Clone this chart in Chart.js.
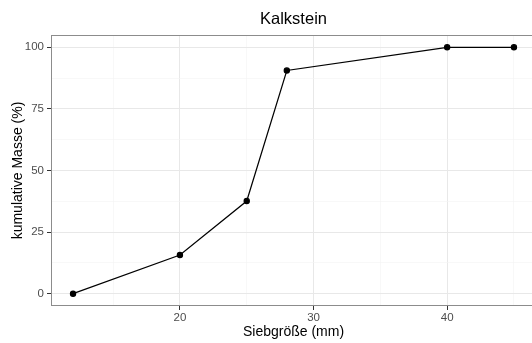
<!DOCTYPE html>
<html>
<head>
<meta charset="utf-8">
<script src="https://cdn.jsdelivr.net/npm/chart.js@4"></script>
<style>
  html, body { margin: 0; padding: 0; background: #fff; overflow: hidden; }
  #wrap { width: 532px; height: 343px; overflow: hidden; }
</style>
</head>
<body>
<div id="wrap"><canvas id="chart" width="540" height="343"></canvas></div>
<script>
const title = "Kalkstein";
const xTitle = "Siebgröße (mm)";
const yTitle = "kumulative Masse (%)";

const sieveSize = [12, 20, 25, 28, 40, 45];
const cumMass = [0, 15.7, 37.6, 90.6, 100, 100];

const xTicks = [15, 20, 25, 30, 35, 40, 45];
const xLabels = [20, 30, 40];
const yTicks = [0, 12.5, 25, 37.5, 50, 62.5, 75, 87.5, 100];
const yLabels = [0, 25, 50, 75, 100];

const font = "'Liberation Sans', Arial, sans-serif";

const isMajor = (list, v) => list.includes(v);

const panelPlugin = {
  id: "panel",
  afterDraw(chart) {
    const a = chart.chartArea;
    const ctx = chart.ctx;
    ctx.save();
    ctx.strokeStyle = "#8c8c8c";
    ctx.lineWidth = 1;
    ctx.strokeRect(a.left + 0.5, a.top + 0.5, a.right - a.left - 1, a.bottom - a.top - 1);
    ctx.fillStyle = "#000";
    ctx.font = "16.5px " + font;
    ctx.textAlign = "center";
    ctx.textBaseline = "middle";
    ctx.fillText(title, (a.left + a.right) / 2, 19.5);
    ctx.restore();
  }
};

new Chart(document.getElementById("chart"), {
  type: "line",
  data: {
    datasets: [{
      data: sieveSize.map((x, i) => ({ x: x, y: cumMass[i] })),
      borderColor: "#000",
      backgroundColor: "#000",
      borderWidth: 1.2,
      pointRadius: 2.6,
      pointHoverRadius: 2.6,
      tension: 0,
      fill: false
    }]
  },
  options: {
    responsive: false,
    animation: false,
    layout: { padding: { top: 35, right: 4, left: 0, bottom: 0 } },
    plugins: { legend: { display: false }, tooltip: { enabled: false } },
    scales: {
      x: {
        type: "linear",
        min: 10.35,
        max: 46.65,
        afterBuildTicks: s => { s.ticks = xTicks.map(v => ({ value: v })); },
        afterFit: s => { s.height = 37; },
        ticks: {
          autoSkip: false,
          maxRotation: 0,
          padding: 1,
          color: "#4d4d4d",
          font: { family: font, size: 11.5 },
          callback: v => isMajor(xLabels, v) ? String(v) : ""
        },
        grid: {
          color: c => isMajor(xLabels, c.tick.value) ? "#e8e8e8" : "#f3f3f3",
          lineWidth: c => isMajor(xLabels, c.tick.value) ? 1 : 0.6,
          tickColor: c => isMajor(xLabels, c.tick.value) ? "#333" : "rgba(0,0,0,0)",
          tickLength: 4,
          drawTicks: true
        },
        border: { display: false },
        title: {
          display: true,
          text: xTitle,
          color: "#000",
          font: { family: font, size: 14 },
          padding: { top: 0, bottom: 2 }
        }
      },
      y: {
        min: -5,
        max: 105,
        afterBuildTicks: s => { s.ticks = yTicks.map(v => ({ value: v })); },
        afterFit: s => { s.width = 51; },
        ticks: {
          autoSkip: false,
          padding: 3,
          color: "#4d4d4d",
          font: { family: font, size: 11.5 },
          callback: v => isMajor(yLabels, v) ? String(v) : ""
        },
        grid: {
          color: c => isMajor(yLabels, c.tick.value) ? "#e8e8e8" : "#f3f3f3",
          lineWidth: c => isMajor(yLabels, c.tick.value) ? 1 : 0.6,
          tickColor: c => isMajor(yLabels, c.tick.value) ? "#333" : "rgba(0,0,0,0)",
          tickLength: 4,
          drawTicks: true
        },
        border: { display: false },
        title: {
          display: true,
          text: yTitle,
          color: "#000",
          font: { family: font, size: 14 },
          padding: { top: 10, bottom: 0 }
        }
      }
    }
  },
  plugins: [panelPlugin]
});
</script>
</body>
</html>
